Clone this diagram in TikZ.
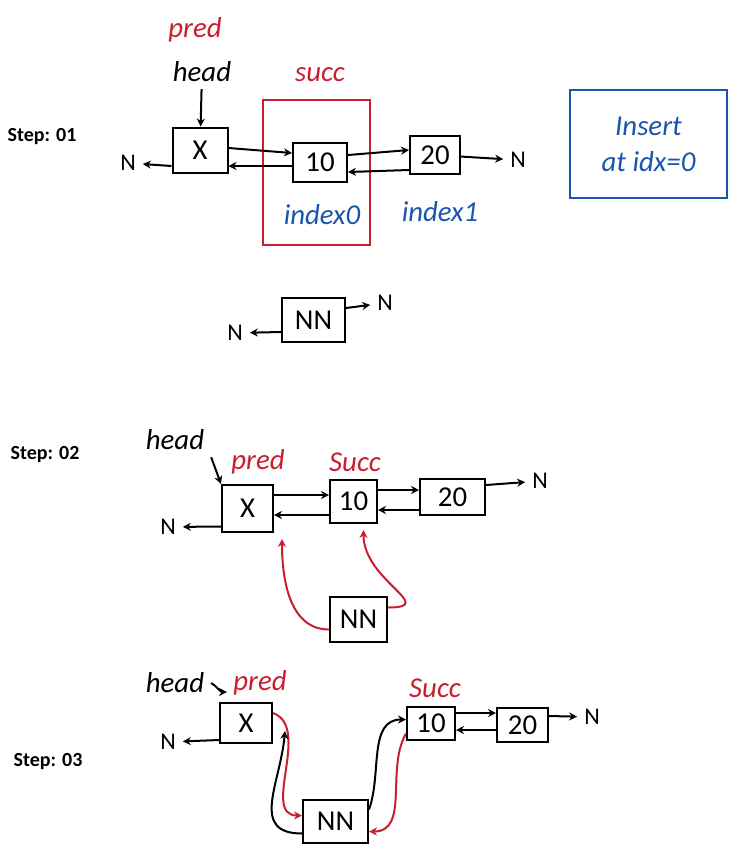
\documentclass[tikz,border=0pt]{standalone}
\usepackage{fontspec}
\setmainfont{Carlito}
\usetikzlibrary{arrows.meta, positioning}
\definecolor{penred}{RGB}{200,30,45}
\definecolor{penblue}{RGB}{25,85,170}

\begin{document}
\begin{tikzpicture}[x=0.5pt, y=-0.5pt,
  box/.style={draw, line width=1pt, minimum width=27pt, minimum height=21pt, font=\Large, inner sep=1pt},
  link/.style={-{Stealth[open, length=4pt, width=4pt]}, line width=1pt},
  newlink/.style={link, penred},
  steplbl/.style={font=\bfseries},
  note/.style={font=\itshape\Large},
  nul/.style={font=\large}
]
\useasboundingbox (0,0) rectangle (748,859);

% Step 01
\node[steplbl] (s1) at (42,137) {Step: 01};
\node[box, minimum width=27.5pt, minimum height=22.5pt] (xa) at (200,150) {X};
\node[box, minimum height=19.5pt] (ta) at (320,162) {10};
\node[box, minimum width=25pt, minimum height=19pt] (wa) at (435,155) {20};
\node[nul] (nla) at (128,163) {N};
\node[nul] (nra) at (518,160) {N};
\node[note] (ha) at (202,72) {head};
\node[note, penred] (pa) at (195,30) {pred};
\node[note, penred] (sa) at (320,75) {succ};
\node[draw=penred, line width=1pt, minimum width=53.5pt, minimum height=72.5pt] (sel) at (316.5,172.5) {};
\node[note, penblue] (ia) at (322,215) {index0};
\node[note, penblue] (ib) at (440,212) {index1};
\node[draw=penblue, line width=1pt, minimum width=78.5pt, minimum height=54pt, align=center, note, penblue] (ins) at (648.5,144) {Insert\\at idx=0};

\draw[link] (ha) -- (xa);
\draw[link] ([yshift=-8pt]xa.west) -- (nla);
\draw[link] ([yshift=1pt]xa.east) -- ([yshift=4.5pt]ta.west);
\draw[link] ([yshift=-2pt]ta.west) -- ([yshift=-8pt]xa.east);
\draw[link] ([yshift=3.5pt]ta.east) -- ([yshift=2.5pt]wa.west);
\draw[link] ([yshift=-7.5pt]wa.west) -- ([yshift=-5pt]ta.east);
\draw[link] (wa) -- (nra);

\node[box, minimum width=31.5pt, minimum height=22pt] (nb) at (313.5,320) {NN};
\node[nul] (nlb) at (235,333) {N};
\node[nul] (nrb) at (385,303) {N};
\draw[link] ([yshift=-6pt]nb.west) -- (nlb);
\draw[link] ([yshift=6pt]nb.east) -- (nrb);

% Step 02
\node[steplbl] (s2) at (45,455) {Step: 02};
\node[box, minimum width=25.5pt, minimum height=23.5pt] (xb) at (247.5,508.5) {X};
\node[box, minimum width=23.5pt, minimum height=21.5pt] (tb) at (353.5,501.5) {10};
\node[box, minimum width=32.5pt, minimum height=18pt] (wb) at (452.5,497) {20};
\node[box, minimum width=28.5pt, minimum height=22.5pt] (nnb) at (358.5,619.5) {NN};
\node[note] (hb) at (175,440) {head};
\node[note, penred] (pb) at (258,462) {pred};
\node[note, penred] (sb) at (355,462) {Succ};
\node[nul] (nlc) at (168,527) {N};
\node[nul] (nrc) at (540,481) {N};

\draw[link] (hb.south east) -- (xb.north west);
\draw[link] ([yshift=-9pt]xb.west) -- (nlc);
\draw[link] ([yshift=6.75pt]xb.east) -- ([yshift=3.25pt]tb.west);
\draw[link] ([yshift=-6.75pt]tb.west) -- ([yshift=-3.25pt]xb.east);
\draw[link] ([yshift=5.75pt]tb.east) -- ([yshift=3.5pt]wb.west);
\draw[link] ([yshift=-6.5pt]wb.west) -- ([yshift=-4.25pt]tb.east);
\draw[link] ([yshift=6pt]wb.east) -- (nrc);
\draw[newlink] ([yshift=-5pt]nnb.west) to[out=180, in=-90] ([xshift=4pt, yshift=-3pt]xb.south east);
\draw[newlink] ([yshift=6pt]nnb.east) to[out=0, in=-90, looseness=1.6] ([xshift=5pt, yshift=-3pt]tb.south);

% Step 03
\node[steplbl] (s3) at (48,762) {Step: 03};
\node[box, minimum width=26pt, minimum height=20pt] (xc) at (246,723) {X};
\node[box, minimum width=24pt, minimum height=16.5pt] (tc) at (431,723.5) {10};
\node[box, minimum width=25.5pt, minimum height=17pt] (wc) at (522.5,725) {20};
\node[box, minimum width=32.5pt, minimum height=21.5pt] (nnc) at (335.5,821.5) {NN};
\node[note] (hc) at (175,683) {head};
\node[note, penred] (pc) at (260,683) {pred};
\node[note, penred] (sc) at (435,688) {Succ};
\node[nul] (nld) at (168,742) {N};
\node[nul] (nrd) at (592,717) {N};

\draw[link] (hc.east) to[out=-30, in=180] ([xshift=4pt, yshift=5pt]xc.north west);
\draw[link] ([yshift=-8.5pt]xc.west) -- (nld);
\draw[link] ([yshift=5.25pt]tc.east) -- ([yshift=6pt]wc.west);
\draw[link] ([yshift=-2.5pt]wc.west) -- ([yshift=-3.25pt]tc.east);
\draw[link] ([yshift=4.5pt]wc.east) -- (nrd);
\draw[newlink] ([yshift=5pt]xc.east) to[out=-20, in=180] ([yshift=3pt]nnc.west);
\draw[link] ([yshift=-6pt]nnc.west) to[out=180, in=-95, looseness=1.3] ([xshift=6pt, yshift=-4pt]xc.east);
\draw[link] ([yshift=6pt]nnc.east) to[out=70, in=180] ([yshift=2pt]tc.west);
\draw[newlink] ([yshift=-5pt]tc.west) to[out=-120, in=0] ([yshift=-5pt]nnc.east);
\end{tikzpicture}
\end{document}
